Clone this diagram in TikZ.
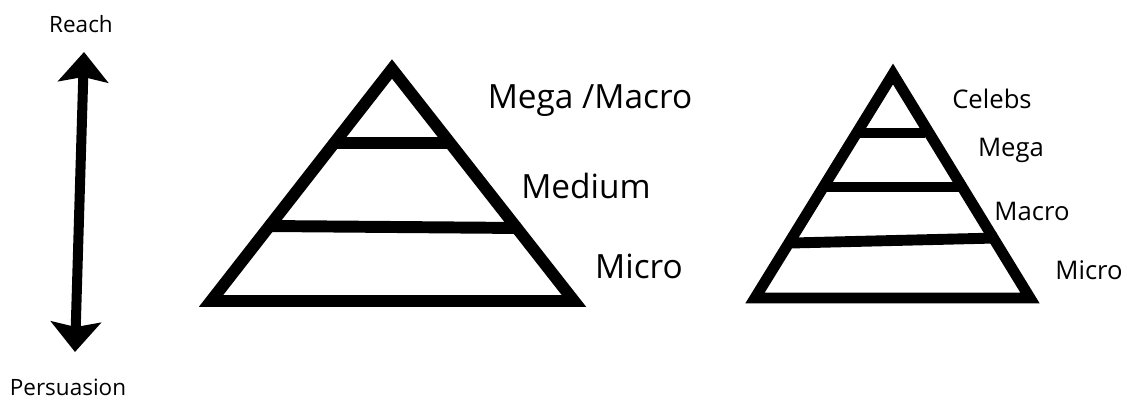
\documentclass[tikz,border=0pt]{standalone}
\usepackage{fontspec}
\setmainfont{Open Sans}
\usetikzlibrary{arrows.meta}
\tikzset{
  tier/.style={line width=6.8pt,line join=miter,miter limit=20},
  tierline/.style={line width=6.8pt},
  smalltier/.style={line width=6.2pt,line join=miter,miter limit=20},
  biglab/.style={font=\fontsize{19}{23}\selectfont,inner sep=0pt},
  smalllab/.style={font=\fontsize{14.6}{17}\selectfont,inner sep=0pt},
  axislab/.style={font=\fontsize{12.8}{15}\selectfont,inner sep=0pt},
  scale arrow/.style={line width=5.7pt,{Stealth[length=0.6cm,width=1.0cm,inset=0.1cm]}-{Stealth[length=0.6cm,width=1.0cm,inset=0.1cm]}}
}
\begin{document}
\begin{tikzpicture}[x=0.02cm,y=-0.02cm]
  \useasboundingbox (0,0) rectangle (1127,401);
  % reach vs persuasion
  \node[axislab] (reach) at (81,24) {Reach};
  \node[axislab] (persuasion) at (68,387) {Persuasion};
  \coordinate (reachtip) at (84,52); \coordinate (persuasiontip) at (75,352);
  \draw[scale arrow] (persuasiontip)--(reachtip);
  % first pyramid
  \draw[tier] (392,69)--(211,301)--(574,301)--cycle;
  \draw[tierline] (333,143)--(450,143);
  \draw[tierline] (266,226)--(520,228);
  \node[biglab] (megamacro) at (590,101) {Mega /Macro};
  \node[biglab] (medium) at (586,186) {Medium};
  \node[biglab] (micro) at (639,266) {Micro};
  % second pyramid
  \draw[smalltier] (893,74)--(755,298)--(1030,298)--cycle;
  \draw[tierline,line width=6.2pt] (860,133)--(925,133);
  \draw[tierline,line width=6.2pt] (827,187)--(960,187);
  \draw[tierline,line width=6.2pt] (792,243)--(997,238);
  \node[smalllab] (celebs) at (992,99) {Celebs};
  \node[smalllab] (mega) at (1011,150) {Mega};
  \node[smalllab] (macro) at (1032,211) {Macro};
  \node[smalllab] (microb) at (1089,270) {Micro};
\end{tikzpicture}
\end{document}
